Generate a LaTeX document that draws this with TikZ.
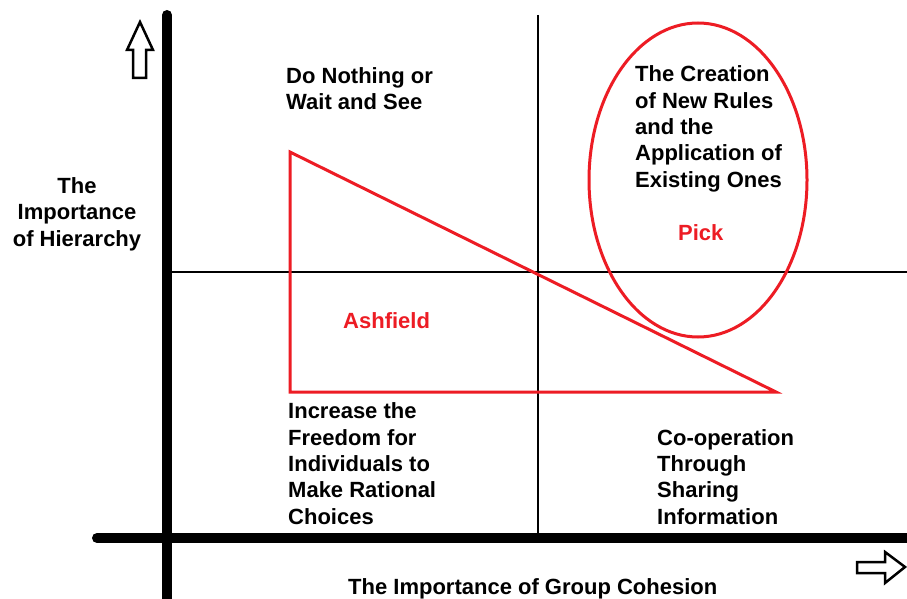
\documentclass[tikz,border=0pt]{standalone}
\usepackage{fontspec}
\setmainfont{Liberation Sans}
\definecolor{paintred}{RGB}{237,28,36}
\begin{document}
\begin{tikzpicture}[x=1pt,y=-1pt,
  lbl/.style={font=\bfseries\fontsize{22}{26.3}\selectfont, inner sep=0pt, align=left, anchor=base west},
  redlbl/.style={lbl, text=paintred},
  axis/.style={line width=10pt, line cap=round},
  grid/.style={line width=2pt},
  redline/.style={paintred, line width=3pt},
  hollow/.style={line width=2.5pt, line join=miter, fill=white}]
\useasboundingbox[fill=white] (0,0) rectangle (907,599);
% inner quadrant lines
\draw[grid] (538,15) -- (538,538);
\draw[grid] (167,272) -- (907,272);
% axes
\draw[axis] (167,15) -- (167,620);
\draw[axis] (97,538) -- (930,538);
% hollow arrows
\draw[hollow] (140,22) -- (153,50) -- (146,50) -- (146,78) -- (133,78) -- (133,50) -- (127,50) -- cycle;
\draw[hollow] (905,567) -- (885,552) -- (885,562) -- (857,562) -- (857,573) -- (885,573) -- (885,583) -- cycle;
% triangle and ellipse
\coordinate (tA) at (290,152);
\coordinate (tB) at (290,392);
\coordinate (tC) at (776,392);
\draw[redline, line join=miter] (tA) -- (tB) -- (tC) -- cycle;
\draw[redline] (698,180) ellipse [x radius=109, y radius=157];
% labels (base anchor = baseline of last line)
\node[lbl] (donothing) at (286,110) {Do Nothing or\\Wait and See};
\node[lbl] (creation) at (635,187) {The Creation\\of New Rules\\and the\\Application of\\Existing Ones};
\node[redlbl] (pick) at (678,240) {Pick};
\node[redlbl] (ashfield) at (343,328) {Ashfield};
\node[lbl] (increase) at (288,524) {Increase the\\Freedom for\\Individuals to\\Make Rational\\Choices};
\node[lbl] (coop) at (657,524) {Co-operation\\Through\\Sharing\\Information};
\node[lbl, align=center, anchor=base] (hier) at (77,246) {The\\Importance\\of Hierarchy};
\node[lbl] (cohesion) at (348,594) {The Importance of Group Cohesion};
\end{tikzpicture}
\end{document}
